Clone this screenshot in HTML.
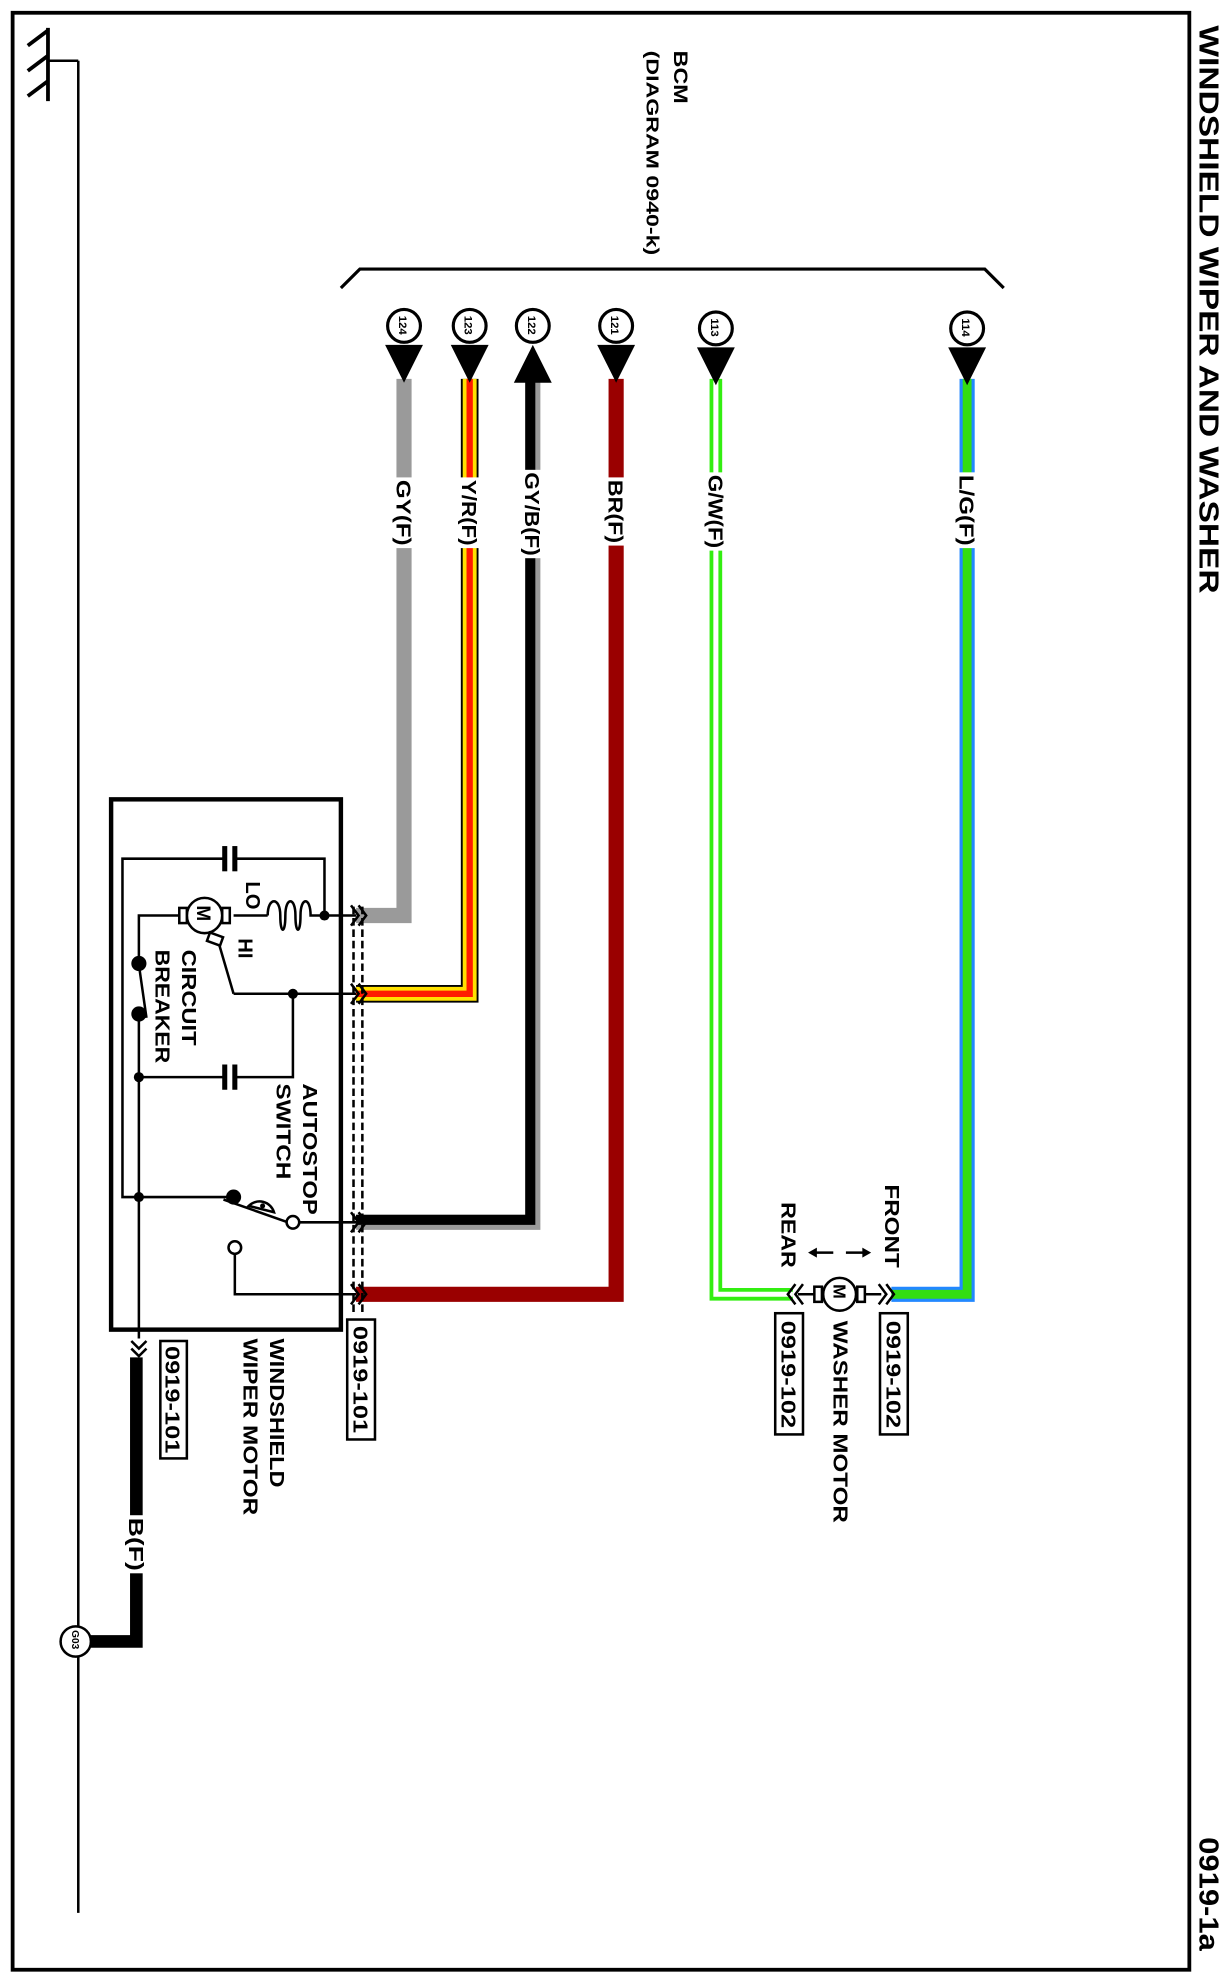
<!DOCTYPE html>
<html><head><meta charset="utf-8"><style>
html,body{margin:0;padding:0;background:#fff}
svg{display:block}
text{font-family:"Liberation Sans",Arial,sans-serif;font-weight:bold;fill:#000}
</style></head><body>
<svg width="1231" height="1980" viewBox="0 0 975 1568" xmlns="http://www.w3.org/2000/svg">
<rect x="0" y="0" width="975" height="1568" fill="#fff"/>
<rect x="10" y="10" width="932" height="1550" fill="none" stroke="#000" stroke-width="3"/>
<text transform="translate(950,20) rotate(90)" font-size="22" textLength="450" lengthAdjust="spacingAndGlyphs">WINDSHIELD WIPER AND WASHER</text>
<text transform="translate(950,1455) rotate(90)" font-size="22" textLength="90" lengthAdjust="spacingAndGlyphs">0919-1a</text>

<!-- ground bus -->
<line x1="62" y1="48" x2="62" y2="1515" stroke="#000" stroke-width="2"/>
<line x1="38" y1="48" x2="62" y2="48" stroke="#000" stroke-width="2"/>
<line x1="38" y1="22" x2="38" y2="80" stroke="#000" stroke-width="3"/>
<line x1="38" y1="24" x2="22" y2="36" stroke="#000" stroke-width="3"/>
<line x1="38" y1="44" x2="22" y2="56" stroke="#000" stroke-width="3"/>
<line x1="38" y1="64" x2="22" y2="76" stroke="#000" stroke-width="3"/>

<!-- BCM -->
<text transform="translate(534,40) rotate(90)" font-size="15" textLength="42" lengthAdjust="spacingAndGlyphs">BCM</text>
<text transform="translate(512,40) rotate(90)" font-size="14" textLength="162" lengthAdjust="spacingAndGlyphs">(DIAGRAM  0940-k)</text>
<polyline points="270,228 285,213 780,213 795,228" fill="none" stroke="#000" stroke-width="2.5"/>

<!-- wires -->
<polyline points="320,300 320,725 282,725" fill="none" stroke="#9a9a9a" stroke-width="12"/>
<polyline points="372,300 372,787 282,787" fill="none" stroke="#000" stroke-width="14"/>
<polyline points="372,300 372,787 282,787" fill="none" stroke="#ffe000" stroke-width="11"/>
<polyline points="372,300 372,787 282,787" fill="none" stroke="#ff1a00" stroke-width="5"/>
<polyline points="422,300 422,968 282,968" fill="none" stroke="#9a9a9a" stroke-width="12"/>
<polyline points="420,300 420,966 282,966" fill="none" stroke="#000" stroke-width="8"/>
<polyline points="488,300 488,1025 282,1025" fill="none" stroke="#9a0000" stroke-width="12"/>
<polyline points="567,300 567,1025 628,1025" fill="none" stroke="#33ee11" stroke-width="10"/>
<polyline points="567,300 567,1025 628,1025" fill="none" stroke="#fff" stroke-width="4"/>
<polyline points="766,300 766,1025 706,1025" fill="none" stroke="#2288ff" stroke-width="12"/>
<polyline points="766,300 766,1025 706,1025" fill="none" stroke="#33dd11" stroke-width="7"/>

<!-- wire labels -->
<g font-size="16">
<rect x="310" y="378" width="20" height="56" fill="#fff"/><text transform="translate(314,380) rotate(90)" textLength="52" lengthAdjust="spacingAndGlyphs">GY(F)</text>
<rect x="362" y="378" width="20" height="56" fill="#fff"/><text transform="translate(366,380) rotate(90)" textLength="52" lengthAdjust="spacingAndGlyphs">Y/R(F)</text>
<rect x="412" y="372" width="20" height="70" fill="#fff"/><text transform="translate(416,374) rotate(90)" textLength="66" lengthAdjust="spacingAndGlyphs">GY/B(F)</text>
<rect x="478" y="378" width="20" height="54" fill="#fff"/><text transform="translate(482,380) rotate(90)" textLength="50" lengthAdjust="spacingAndGlyphs">BR(F)</text>
<rect x="557" y="374" width="20" height="62" fill="#fff"/><text transform="translate(561,376) rotate(90)" textLength="58" lengthAdjust="spacingAndGlyphs">G/W(F)</text>
<rect x="756" y="374" width="20" height="60" fill="#fff"/><text transform="translate(760,376) rotate(90)" textLength="56" lengthAdjust="spacingAndGlyphs">L/G(F)</text>
</g>

<!-- BCM pins -->
<g stroke="#000" stroke-width="2.5" fill="#fff">
<circle cx="320" cy="258" r="13"/><circle cx="372" cy="258" r="13"/><circle cx="422" cy="258" r="13"/>
<circle cx="488" cy="258" r="13"/><circle cx="567" cy="260" r="13"/><circle cx="766" cy="260" r="13"/>
</g>
<g font-size="9">
<text transform="translate(316,250) rotate(90)">124</text>
<text transform="translate(368,250) rotate(90)">123</text>
<text transform="translate(418,250) rotate(90)">122</text>
<text transform="translate(484,250) rotate(90)">121</text>
<text transform="translate(563,252) rotate(90)">113</text>
<text transform="translate(762,252) rotate(90)">114</text>
</g>
<g fill="#000">
<polygon points="305,273 335,273 320,303"/>
<polygon points="357,273 387,273 372,303"/>
<polygon points="407,303 437,303 422,273"/>
<polygon points="473,273 503,273 488,303"/>
<polygon points="552,275 582,275 567,305"/>
<polygon points="751,275 781,275 766,305"/>
</g>

<!-- wiper motor box -->
<rect x="88" y="633" width="182" height="420" fill="none" stroke="#000" stroke-width="3.5"/>
<g stroke="#000" stroke-width="2" fill="none">
<line x1="280" y1="718" x2="280" y2="1040" stroke-dasharray="6,3"/>
<line x1="287" y1="718" x2="287" y2="1040" stroke-dasharray="6,3"/>
<polyline points="178,680 97,680 97,948 185,948"/>
<polyline points="186,680 257,680 257,725 282,725"/>
<line x1="178" y1="670" x2="178" y2="690" stroke-width="4"/>
<line x1="186" y1="670" x2="186" y2="690" stroke-width="4"/>
<line x1="185" y1="725" x2="212" y2="725"/>
<path d="M212,725 C212,710 222,710 222,725 C222,740 226,740 226,725 C226,710 234,710 234,725 C234,740 238,740 238,725 C238,710 246,710 246,725 L257,725"/>
<circle cx="162" cy="725" r="14" fill="#fff"/>
<rect x="142" y="719" width="6" height="12" fill="#fff"/>
<rect x="176" y="719" width="6" height="12" fill="#fff"/>
<polyline points="142,725 110,725 110,763"/>
<line x1="173" y1="746" x2="185" y2="787"/>
<line x1="185" y1="787" x2="282" y2="787"/>
<polyline points="232,787 232,853 186,853"/>
<polyline points="178,853 110,853"/>
<line x1="178" y1="843" x2="178" y2="863" stroke-width="4"/>
<line x1="186" y1="843" x2="186" y2="863" stroke-width="4"/>
<line x1="110" y1="764" x2="116" y2="806"/>
<line x1="110" y1="803" x2="110" y2="1060"/>
<line x1="177" y1="950" x2="228" y2="968"/>
<line x1="237" y1="968" x2="282" y2="968"/>
<polyline points="186,993 186,1025 282,1025"/>
</g>
<rect x="165" y="740" width="11" height="7" fill="#fff" stroke="#000" stroke-width="2" transform="rotate(20 170 743)"/>
<text transform="translate(156,717) rotate(90)" font-size="15">M</text>
<circle cx="232" cy="968" r="5" fill="#fff" stroke="#000" stroke-width="2"/>
<circle cx="186" cy="988" r="5" fill="#fff" stroke="#000" stroke-width="2"/>
<path d="M197,955 A12,12 0 0 1 217,960 Z" fill="#fff" stroke="#000" stroke-width="2"/>
<circle cx="208" cy="955" r="2" fill="#000"/>
<g fill="#000">
<circle cx="257" cy="725" r="4"/><circle cx="232" cy="787" r="4"/>
<circle cx="110" cy="853" r="4"/><circle cx="110" cy="948" r="4"/>
<circle cx="185" cy="948" r="6"/>
<circle cx="110" cy="763" r="6"/><circle cx="110" cy="803" r="6"/>
</g>
<g font-size="16">
<text transform="translate(195,698) rotate(90)">LO</text>
<text transform="translate(189,743) rotate(90)">HI</text>
<text transform="translate(144,752) rotate(90)" textLength="76" lengthAdjust="spacingAndGlyphs">CIRCUIT</text>
<text transform="translate(123,752) rotate(90)" textLength="90" lengthAdjust="spacingAndGlyphs">BREAKER</text>
<text transform="translate(240,858) rotate(90)" textLength="104" lengthAdjust="spacingAndGlyphs">AUTOSTOP</text>
<text transform="translate(219,858) rotate(90)" textLength="76" lengthAdjust="spacingAndGlyphs">SWITCH</text>
</g>
<g fill="none" stroke="#000" stroke-width="2">
<polyline points="278,717 284,725 278,733"/><polyline points="284,717 290,725 284,733"/>
<polyline points="278,779 284,787 278,795"/><polyline points="284,779 290,787 284,795"/>
<polyline points="278,960 284,968 278,976"/><polyline points="284,960 290,968 284,976"/>
<polyline points="278,1017 284,1025 278,1033"/><polyline points="284,1017 290,1025 284,1033"/>
<polyline points="104,1062 110,1068 116,1062"/><polyline points="104,1068 110,1074 116,1068"/>
</g>
<polyline points="108,1075 108,1300 72,1300" fill="none" stroke="#000" stroke-width="10"/>
<rect x="98" y="1200" width="20" height="46" fill="#fff"/>
<text transform="translate(102,1202) rotate(90)" font-size="16" textLength="42" lengthAdjust="spacingAndGlyphs">B(F)</text>
<circle cx="60" cy="1300" r="12" fill="#fff" stroke="#000" stroke-width="2"/>
<text transform="translate(57,1291) rotate(90)" font-size="8">G03</text>
<rect x="275" y="1045" width="22" height="95" fill="#fff" stroke="#000" stroke-width="2"/>
<text transform="translate(280,1050) rotate(90)" font-size="16" textLength="85" lengthAdjust="spacingAndGlyphs">0919-101</text>
<rect x="127" y="1062" width="21" height="93" fill="#fff" stroke="#000" stroke-width="2"/>
<text transform="translate(131,1066) rotate(90)" font-size="16" textLength="85" lengthAdjust="spacingAndGlyphs">0919-101</text>
<text transform="translate(214,1060) rotate(90)" font-size="16" textLength="118" lengthAdjust="spacingAndGlyphs">WINDSHIELD</text>
<text transform="translate(193,1060) rotate(90)" font-size="16" textLength="140" lengthAdjust="spacingAndGlyphs">WIPER MOTOR</text>

<!-- washer motor -->
<g stroke="#000" stroke-width="2" fill="none">
<line x1="632" y1="1025" x2="698" y2="1025"/>
<polyline points="636,1017 630,1025 636,1033"/><polyline points="630,1017 624,1025 630,1033"/>
<polyline points="696,1017 702,1025 696,1033"/><polyline points="702,1017 708,1025 702,1033"/>
<line x1="644" y1="992" x2="660" y2="992"/><line x1="670" y1="992" x2="686" y2="992"/>
</g>
<rect x="645" y="1019" width="6" height="12" fill="#fff" stroke="#000" stroke-width="2"/>
<rect x="679" y="1019" width="6" height="12" fill="#fff" stroke="#000" stroke-width="2"/>
<circle cx="665" cy="1025" r="13" fill="#fff" stroke="#000" stroke-width="2"/>
<text transform="translate(660,1017) rotate(90)" font-size="14">M</text>
<polygon points="640,992 647,988 647,996" fill="#000"/>
<polygon points="690,992 683,988 683,996" fill="#000"/>
<text transform="translate(701,938) rotate(90)" font-size="16" textLength="66" lengthAdjust="spacingAndGlyphs">FRONT</text>
<text transform="translate(619,952) rotate(90)" font-size="16" textLength="52" lengthAdjust="spacingAndGlyphs">REAR</text>
<rect x="697" y="1040" width="22" height="96" fill="#fff" stroke="#000" stroke-width="2"/>
<text transform="translate(702,1046) rotate(90)" font-size="16" textLength="85" lengthAdjust="spacingAndGlyphs">0919-102</text>
<rect x="614" y="1040" width="22" height="96" fill="#fff" stroke="#000" stroke-width="2"/>
<text transform="translate(619,1046) rotate(90)" font-size="16" textLength="85" lengthAdjust="spacingAndGlyphs">0919-102</text>
<text transform="translate(660,1046) rotate(90)" font-size="16" textLength="160" lengthAdjust="spacingAndGlyphs">WASHER MOTOR</text>
</svg>
</body></html>
